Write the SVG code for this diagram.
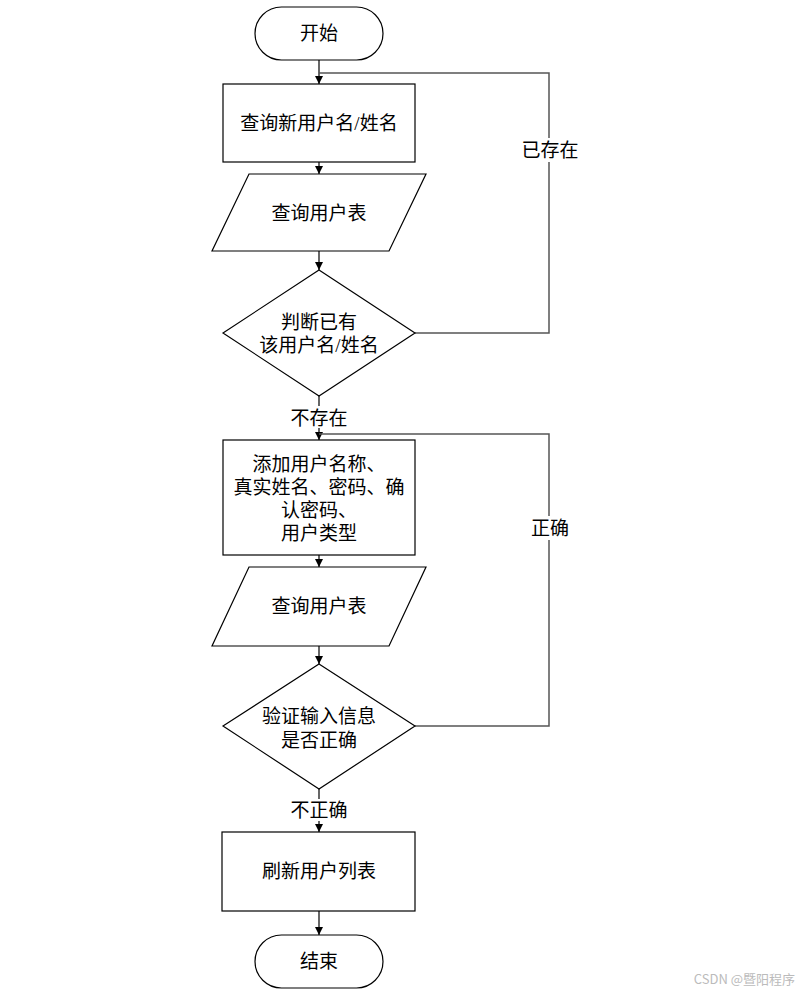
<svg xmlns="http://www.w3.org/2000/svg" width="805" height="995" viewBox="0 0 805 995">
<style>
.n{fill:#fff;stroke:#000;stroke-width:1.2}
.t{font-family:"Liberation Serif","Noto Sans CJK SC",serif;font-size:19px;fill:#000;text-anchor:middle;dominant-baseline:central}
.c{fill:none;stroke:#000;stroke-width:1.2}
.l{fill:none;stroke:#555;stroke-width:1.5}
.lb{fill:#fff}
</style>
<defs>
<marker id="a" markerWidth="10" markerHeight="10" refX="9" refY="5" orient="auto" markerUnits="userSpaceOnUse">
<path d="M1,1 L9,5 L1,9 Z" fill="#000"/>
</marker>
</defs>
<rect width="805" height="995" fill="#fff"/>
<g id="connectors">
<line class="c" x1="319" y1="60" x2="319" y2="84" marker-end="url(#a)"/>
<line class="c" x1="319" y1="162" x2="319" y2="174" marker-end="url(#a)"/>
<line class="c" x1="319" y1="251" x2="319" y2="270" marker-end="url(#a)"/>
<line class="c" x1="319" y1="396" x2="319" y2="406"/>
<line class="c" x1="319" y1="428" x2="319" y2="440" marker-end="url(#a)"/>
<line class="c" x1="319" y1="555" x2="319" y2="567" marker-end="url(#a)"/>
<line class="c" x1="319" y1="646" x2="319" y2="664" marker-end="url(#a)"/>
<line class="c" x1="319" y1="789" x2="319" y2="799"/>
<line class="c" x1="319" y1="821" x2="319" y2="832" marker-end="url(#a)"/>
<line class="c" x1="319" y1="911" x2="319" y2="935" marker-end="url(#a)"/>
<polyline class="l" points="415,333 549,333 549,73 319,73"/>
<polyline class="l" points="415,726 549,726 549,434 319,434"/>
<rect class="lb" x="520" y="138" width="60" height="24"/>
<text class="t" x="550" y="150">已存在</text>
<rect class="lb" x="528" y="516" width="44" height="24"/>
<text class="t" x="550" y="528">正确</text>
<text class="t" x="319" y="418">不存在</text>
<text class="t" x="319" y="810">不正确</text>
</g>
<g id="start">
<rect class="n" x="255" y="7" width="128" height="53" rx="26.5"/>
<text class="t" x="319" y="33">开始</text>
</g>
<g id="query-name">
<rect class="n" x="223" y="84" width="192" height="78"/>
<text class="t" x="319" y="123">查询新用户名/姓名</text>
</g>
<g id="query-table-1">
<polygon class="n" points="249,174 426,174 389,251 212,251"/>
<text class="t" x="319" y="213">查询用户表</text>
</g>
<g id="check-exists">
<polygon class="n" points="319,270 415,333 319,396 223,333"/>
<text class="t" x="319" y="322">判断已有</text>
<text class="t" x="319" y="345">该用户名/姓名</text>
</g>
<g id="add-user">
<rect class="n" x="223" y="440" width="192" height="115"/>
<text class="t" x="319" y="464">添加用户名称、</text>
<text class="t" x="319" y="487">真实姓名、密码、确</text>
<text class="t" x="319" y="510">认密码、</text>
<text class="t" x="319" y="533">用户类型</text>
</g>
<g id="query-table-2">
<polygon class="n" points="249,567 426,567 389,646 212,646"/>
<text class="t" x="319" y="606">查询用户表</text>
</g>
<g id="verify">
<polygon class="n" points="319,664 415,726 319,789 223,726"/>
<text class="t" x="319" y="716">验证输入信息</text>
<text class="t" x="319" y="740">是否正确</text>
</g>
<g id="refresh">
<rect class="n" x="222" y="832" width="193" height="79"/>
<text class="t" x="319" y="871">刷新用户列表</text>
</g>
<g id="end">
<rect class="n" x="255" y="935" width="128" height="53" rx="26.5"/>
<text class="t" x="319" y="961">结束</text>
</g>
<text x="795" y="978" font-family="'Noto Sans CJK SC',sans-serif" font-size="13" fill="#bbb" text-anchor="end" dominant-baseline="central">CSDN @暨阳程序</text>
</svg>
